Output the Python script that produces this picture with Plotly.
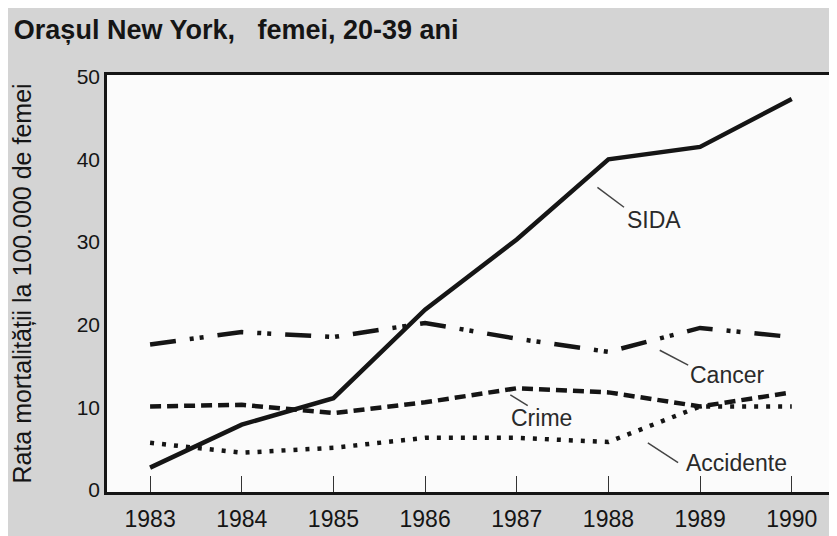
import plotly.graph_objects as go

years = [1983, 1984, 1985, 1986, 1987, 1988, 1989, 1990]
sida = [2.7, 7.9, 11.1, 21.8, 30.3, 40.0, 41.5, 47.3]
cancer = [17.6, 19.1, 18.5, 20.2, 18.3, 16.7, 19.6, 18.5]
crime = [10.1, 10.3, 9.3, 10.6, 12.3, 11.8, 10.1, 11.8]
accidente = [5.7, 4.5, 5.1, 6.3, 6.3, 5.8, 10.1, 10.1]

y_ticks = [0, 10, 20, 30, 40, 50]

FONT = "Liberation Sans, Arial, sans-serif"
INK = "#151515"

fig = go.Figure()
fig.add_trace(go.Scatter(x=years, y=sida, mode="lines", name="SIDA",
                         line=dict(color=INK, width=4.5)))
fig.add_trace(go.Scatter(x=years, y=cancer, mode="lines", name="Cancer",
                         line=dict(color=INK, width=4.5, dash="26px,14px,4px,6px,4px,14px")))
fig.add_trace(go.Scatter(x=years, y=crime, mode="lines", name="Crime",
                         line=dict(color=INK, width=4.5, dash="11px,6px")))
fig.add_trace(go.Scatter(x=years, y=accidente, mode="lines", name="Accidente",
                         line=dict(color=INK, width=4.5, dash="4px,8px")))

labels = [
    ("SIDA", 1988.50, 32.7, (1987.88, 36.6), (1988.17, 34.2)),
    ("Cancer", 1989.29, 13.9, (1988.56, 16.9), (1988.87, 15.1)),
    ("Crime", 1987.27, 8.7, (1986.93, 11.5), (1987.12, 10.2)),
    ("Accidente", 1989.40, 3.3, (1988.43, 5.7), (1988.76, 3.3)),
]
for text, tx, ty, p0, p1 in labels:
    fig.add_annotation(x=tx, y=ty, text=text, showarrow=False,
                       font=dict(family=FONT, size=23, color="#2a2a2a"))
    fig.add_shape(type="line", x0=p0[0], y0=p0[1], x1=p1[0], y1=p1[1],
                  xref="x", yref="y", line=dict(color="#444444", width=1.5))

fig.update_layout(
    width=837, height=536,
    margin=dict(l=99, r=12, t=67, b=52, autoexpand=False),
    paper_bgcolor="#d4d4d4",
    plot_bgcolor="#fbfbfb",
    showlegend=False,
    font=dict(family=FONT, color=INK),
    title=dict(text="<b>Orașul New York,   femei, 20-39 ani</b>",
               x=0.007, xanchor="left", y=0.959, yanchor="middle",
               font=dict(family=FONT, size=27, color=INK)),
)
fig.update_xaxes(
    range=[1982.53, 1990.45], tickvals=years, ticktext=[str(y) for y in years],
    ticks="inside", ticklen=16, tickwidth=1.2, tickcolor="#333333",
    ticklabelstandoff=5,
    showline=True, linecolor=INK, linewidth=2.5, mirror=True,
    showgrid=False, zeroline=False, automargin=False,
    tickfont=dict(family=FONT, size=23, color=INK),
)
fig.update_yaxes(
    range=[-0.25, 50.2], tickvals=y_ticks,
    ticks="", showline=True, linecolor=INK, linewidth=2.5, mirror=True,
    showgrid=False, zeroline=False, automargin=False,
    tickfont=dict(family=FONT, size=21, color=INK),
    title=dict(text="Rata mortalității la 100.000 de femei", standoff=40,
               font=dict(family=FONT, size=25, color=INK)),
)

fig.write_html("out.html")
